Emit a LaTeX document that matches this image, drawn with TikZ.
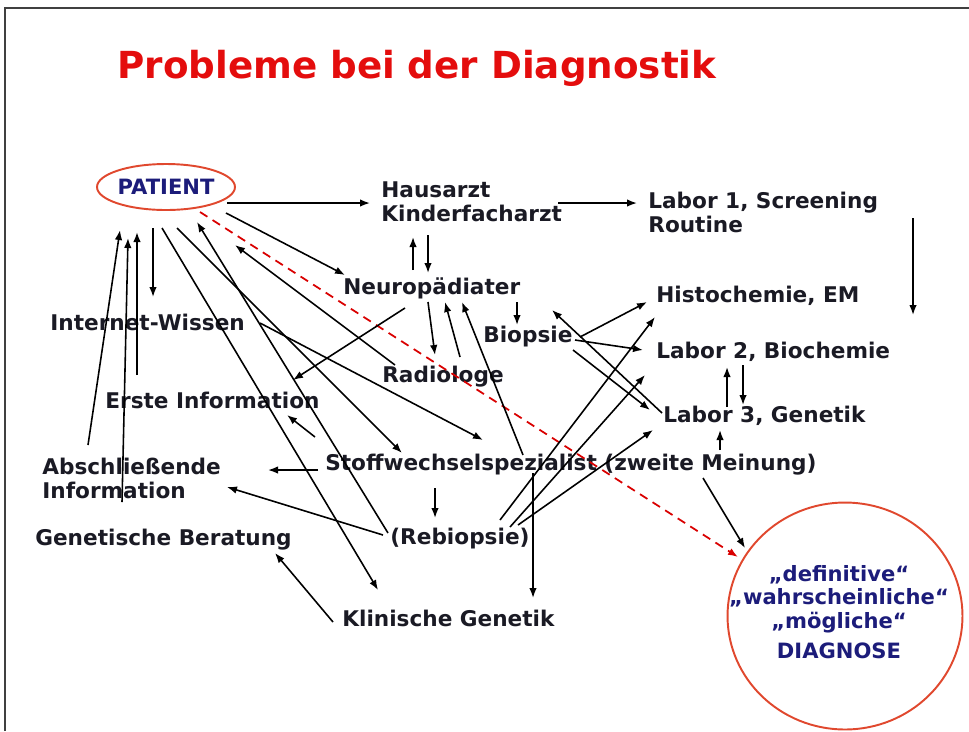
\documentclass[tikz,border=0pt]{standalone}
\usepackage{fontspec}
\setmainfont{DejaVu Sans}
\usepackage{xcolor}
\usepackage{tikz}
\usetikzlibrary{arrows.meta,calc,shapes.geometric}
\definecolor{headred}{HTML}{E40D0D}
\definecolor{ringred}{HTML}{E0482E}
\definecolor{navytext}{HTML}{1C1C7A}
\definecolor{inktext}{HTML}{1A1A24}

\begin{document}
\begin{tikzpicture}[
    x=0.02cm, y=-0.02cm,
    lbl/.style={
      anchor=west, inner sep=0pt, align=left, text=inktext,
      font=\fontsize{12.3}{13.7}\selectfont\bfseries
    },
    ring/.style={
      ellipse, draw=ringred, line width=1.1pt, inner sep=0pt
    },
    ringtext/.style={
      align=center, inner sep=0pt, text=navytext,
      font=\fontsize{12}{13.4}\selectfont\bfseries
    },
    headline/.style={
      anchor=west, inner sep=0pt, text=headred,
      font=\fontsize{21.2}{24}\selectfont\bfseries
    },
    arr/.style={-{Latex[length=2mm,width=1.5mm]},line width=0.9pt,draw=black},
    hint/.style={-{Latex[length=2mm,width=1.5mm]},line width=1pt,draw=red!85!black,
      dash pattern=on 5pt off 3.5pt}
  ]
    \useasboundingbox (0,0) rectangle (969,731);
    \draw[line width=0.8pt,black!75] (5,731) -- (5,8) -- (969,8);

    \node[headline] (head) at (117,68) {Probleme bei der Diagnostik};

    \node[ring,minimum width=2.76cm,minimum height=0.92cm,inner xsep=-3pt,
      text=navytext,font=\fontsize{12}{13.7}\selectfont\bfseries] (pat) at (166,187) {PATIENT};
    \node[lbl] (haus) at (381,202) {Hausarzt\\Kinderfacharzt};
    \node[lbl] (labor1) at (648,212) {Labor 1, Screening\\Routine};
    \node[lbl] (neuro) at (343,288) {Neuropädiater};
    \node[lbl] (biopsie) at (483,337) {Biopsie};
    \node[lbl] (histo) at (656,296) {Histochemie, EM};
    \node[lbl] (labor2) at (656,352) {Labor 2, Biochemie};
    \node[lbl] (labor3) at (663,416) {Labor 3, Genetik};
    \node[lbl] (inet) at (50,322) {Internet-Wissen};
    \node[lbl] (radio) at (382,377) {Radiologe};
    \node[lbl] (erste) at (105,400) {Erste Information};
    \node[lbl] (abschl) at (42,478) {Abschließende\\Information};
    \node[lbl] (stoff) at (325,465) {Stoffwechselspezialist (zweite Meinung)};
    \node[lbl] (genb) at (35,540) {Genetische Beratung};
    \node[lbl] (rebio) at (390,539) {(Rebiopsie)};
    \node[lbl] (klin) at (342,618) {Klinische Genetik};
    \node[ring,minimum width=4.7cm,minimum height=4.54cm] (diag) at (845,616) {};
    \node[ringtext] (diagtxt) at (839,612) {„definitive“\\„wahrscheinliche“\\„mögliche“\\[3.6pt]DIAGNOSE};
    \coordinate (l1end) at (913,315);

    \draw[arr] ($(pat)+(61,16)$) -- ($(haus.west)+(-11,1)$);
    \draw[arr] ($(pat)+(60,26)$) -- ($(neuro.west)+(2,-13)$);
    \draw[hint] ($(pat)+(34,25)$) -- ($(diag)+(-107,-59)$);
    \draw[arr] ($(pat)+(-13,41)$) -- ($(inet.west)+(103,-25)$);
    \draw[arr] ($(pat)+(-4,41)$) -- ($(klin.west)+(36,-28)$);
    \draw[arr] ($(pat)+(11,41)$) -- ($(stoff.west)+(77,-12)$);
    \draw[arr] ($(rebio.west)+(-2,-6)$) -- ($(pat)+(31,35)$);
    \draw[arr] ($(radio.west)+(13,-12)$) -- ($(pat)+(69,58)$);
    \draw[arr] ($(abschl.west)+(46,-33)$) -- ($(pat)+(-46,43)$);
    \draw[arr] ($(genb.west)+(87,-38)$) -- ($(pat)+(-38,51)$);
    \draw[arr] ($(erste.west)+(32,-25)$) -- ($(pat)+(-29,45)$);
    \draw[arr] ($(haus.west)+(177,1)$) -- ($(labor1.west)+(-11,-9)$);
    \draw[arr] ($(neuro.west)+(70,-18)$) -- ($(haus.west)+(32,35)$);
    \draw[arr] ($(haus.west)+(47,33)$) -- ($(neuro.west)+(85,-15)$);
    \draw[arr] ($(neuro.west)+(85,14)$) -- ($(radio.west)+(53,-22)$);
    \draw[arr] ($(radio.west)+(78,-20)$) -- ($(neuro.west)+(102,14)$);
    \draw[arr] ($(stoff.west)+(198,-10)$) -- ($(neuro.west)+(119,14)$);
    \draw[arr] ($(neuro.west)+(62,20)$) -- ($(erste.west)+(188,-20)$);
    \draw[arr] ($(neuro.west)+(174,14)$) -- ($(biopsie.west)+(34,-12)$);
    \draw[arr] ($(biopsie.west)+(97,0)$) -- ($(histo.west)+(-9,6)$);
    \draw[arr] ($(biopsie.west)+(92,3)$) -- ($(labor2.west)+(-13,-2)$);
    \draw[arr] ($(biopsie.west)+(90,13)$) -- ($(labor3.west)+(-13,-6)$);
    \draw[arr] ($(labor3.west)+(-1,-3)$) -- ($(biopsie.west)+(69,-27)$);
    \draw[arr] ($(rebio.west)+(110,-19)$) -- ($(histo.west)+(-1,21)$);
    \draw[arr] ($(rebio.west)+(120,-12)$) -- ($(labor2.west)+(-11,23)$);
    \draw[arr] ($(rebio.west)+(128,-14)$) -- ($(labor3.west)+(-10,14)$);
    \draw[arr] ($(stoff.west)+(208,8)$) -- ($(klin.west)+(191,-20)$);
    \draw[arr] ($(stoff.west)+(110,23)$) -- ($(rebio.west)+(45,-21)$);
    \draw[arr] ($(stoff.west)+(-7,5)$) -- ($(abschl.west)+(226,-8)$);
    \draw[arr] ($(stoff.west)+(-10,-28)$) -- ($(erste.west)+(182,15)$);
    \draw[arr] ($(rebio.west)+(-7,-4)$) -- ($(abschl.west)+(185,9)$);
    \draw[arr] ($(klin.west)+(-9,4)$) -- ($(genb.west)+(240,13)$);
    \draw[arr] ($(inet.west)+(210,1)$) -- ($(stoff.west)+(158,-25)$);
    \draw[arr] ($(stoff.west)+(395,-15)$) -- ($(labor3.west)+(57,14)$);
    \draw[arr] ($(stoff.west)+(378,13)$) -- ($(diag)+(-100,-68)$);
    \draw[arr] ($(labor3.west)+(64,-9)$) -- ($(labor2.west)+(71,15)$);
    \draw[arr] ($(labor2.west)+(87,13)$) -- ($(labor3.west)+(80,-11)$);
    \draw[arr] ($(labor1.west)+(265,6)$) -- (l1end);
  \end{tikzpicture}
\end{document}
